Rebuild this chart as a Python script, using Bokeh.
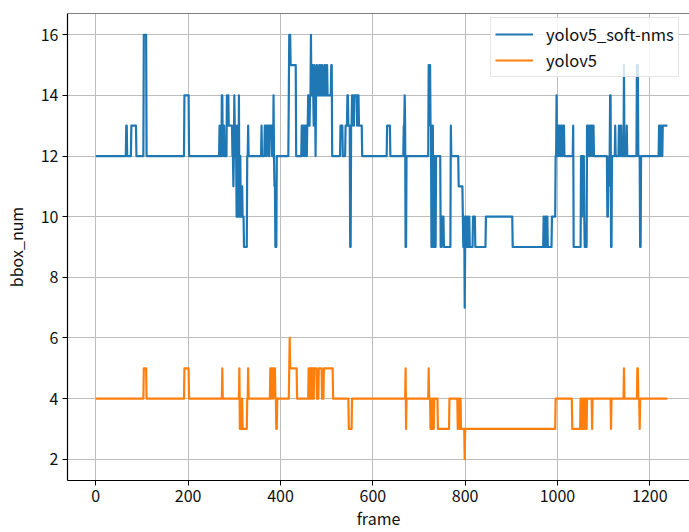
from bokeh.plotting import figure
from bokeh.embed import file_html
from bokeh.resources import INLINE
from bokeh.models import FixedTicker, Span, Legend, LegendItem, ColumnDataSource

# ---- data (step runs: frame where a value starts, value) ----
last_frame = 1238

soft_nms_starts = [0, 66, 68, 77, 88, 104, 110, 192, 202,
    268, 269, 273, 275, 277, 279, 284, 288, 296, 298, 299, 300, 301, 303, 305, 306, 307, 309, 310, 311, 313, 314, 317, 318, 321, 328, 330, 331,
    359, 360, 366, 369, 371, 375, 377, 382, 385, 386, 387, 389, 392,
    418, 419, 422, 434, 446, 448, 449, 452, 454, 457, 458, 460, 462, 464, 466, 467, 470, 471, 472, 473, 474, 476, 477, 478, 480, 484, 486, 489, 491, 495, 497, 500, 502, 510, 512,
    530, 535, 541, 545, 547, 551, 553, 555, 558, 560, 566, 567, 570, 577,
    631, 638, 667, 669, 670, 671, 673,
    721, 725, 727, 729, 731, 733, 735, 737, 747, 750, 754, 769, 770, 786, 795, 796, 798, 799, 800, 801, 803, 805, 807, 809, 810, 817, 822, 845, 903,
    970, 972, 974, 976, 977, 979, 988, 996, 998, 999, 1001, 1003, 1004, 1006, 1008, 1010, 1012, 1015, 1034, 1035, 1051, 1053, 1054, 1058, 1059,
    1064, 1066, 1068, 1070, 1072, 1075, 1077, 1079, 1108, 1110, 1112, 1114, 1116, 1118, 1125, 1126, 1133, 1134, 1137, 1139, 1144, 1145, 1150, 1151,
    1172, 1175, 1179, 1181, 1220, 1222, 1224, 1226, 1228]
soft_nms_values = [12, 13, 12, 13, 12, 16, 12, 14, 12,
    13, 12, 14, 12, 13, 12, 14, 13, 12, 11, 12, 14, 13, 12, 10, 13, 10, 11, 14, 10, 12, 10, 11, 10, 9, 12, 13, 12,
    13, 12, 13, 12, 13, 12, 13, 12, 14, 12, 11, 9, 12,
    14, 16, 15, 12, 13, 12, 13, 12, 13, 12, 13, 14, 13, 14, 16, 14, 15, 14, 13, 15, 14, 12, 14, 15, 14, 15, 14, 15, 14, 15, 14, 15, 14, 15, 12,
    13, 12, 13, 14, 13, 9, 13, 14, 13, 14, 13, 14, 13, 12,
    13, 12, 13, 14, 13, 9, 12,
    15, 13, 9, 13, 9, 12, 9, 12, 9, 10, 9, 13, 12, 11, 10, 9, 10, 7, 9, 10, 9, 10, 9, 10, 9, 10, 9, 10, 9,
    10, 9, 10, 9, 10, 9, 10, 12, 14, 12, 13, 12, 13, 12, 13, 12, 13, 12, 13, 9, 12, 10, 12, 10, 9,
    13, 12, 13, 12, 13, 12, 13, 12, 10, 11, 12, 14, 9, 12, 13, 12, 13, 12, 13, 12, 15, 12, 13, 12,
    15, 12, 9, 12, 13, 12, 13, 12, 13]

yolov5_starts = [0, 104, 110, 192, 202, 274, 275, 311, 312, 316, 318, 328, 330, 331,
    378, 380, 381, 384, 385, 389, 391, 393, 419, 420, 421, 436,
    461, 463, 464, 466, 467, 469, 470, 472, 473, 479, 483, 490, 494, 514, 548, 555,
    671, 672, 673, 721, 722, 725, 727, 728, 730, 731, 733, 741, 766, 784, 787, 788, 790, 791, 799, 800,
    996, 1032, 1050, 1053, 1055, 1057, 1059, 1062, 1064, 1075, 1076, 1116, 1117, 1144, 1145, 1173, 1175, 1178, 1179]
yolov5_values = [4, 5, 4, 5, 4, 5, 4, 5, 3, 4, 3, 4, 5, 4,
    5, 4, 5, 4, 5, 4, 3, 4, 5, 6, 5, 4,
    5, 4, 5, 4, 5, 4, 5, 4, 5, 4, 5, 4, 5, 4, 3, 4,
    5, 3, 4, 5, 4, 3, 4, 3, 4, 3, 4, 3, 4, 3, 4, 3, 4, 3, 2, 3,
    4, 3, 4, 3, 4, 3, 4, 3, 4, 3, 4, 3, 4, 5, 4, 5, 4, 3, 4]

x_ticks = [0, 200, 400, 600, 800, 1000, 1200]
y_ticks = [2, 4, 6, 8, 10, 12, 14, 16]
series_names = ["yolov5_soft-nms", "yolov5"]
series_colors = ["#1f77b4", "#ff7f0e"]


def expand(starts, values, last):
    xs, ys = [], []
    for i, (s, v) in enumerate(zip(starts, values)):
        e = starts[i + 1] if i + 1 < len(starts) else last + 1
        for f in range(s, e):
            xs.append(f)
            ys.append(v)
    return xs, ys


FONT = "Noto Sans CJK JP"

p = figure(width=689, height=532, x_range=(-61.3, 1285.9), y_range=(1.3, 16.7),
           output_backend="svg", toolbar_location=None,
           min_border_left=66, min_border_top=13, min_border_right=0, min_border_bottom=51)
p.outline_line_color = None
p.background_fill_color = "white"
p.border_fill_color = "white"

renderers = []
for (starts, vals), color in zip([(soft_nms_starts, soft_nms_values), (yolov5_starts, yolov5_values)], series_colors):
    xs, ys = expand(starts, vals, last_frame)
    src = ColumnDataSource(dict(x=xs, y=ys))
    r = p.line("x", "y", source=src, line_color=color, line_width=2.2, line_join="round")
    renderers.append(r)

p.add_layout(Span(location=16.7, dimension="width", line_color="black", line_width=1.2))

for ax in (p.xaxis, p.yaxis):
    ax.axis_line_color = "black"
    ax.axis_line_width = 1.2
    ax.major_tick_line_color = "black"
    ax.major_tick_out = 5
    ax.major_tick_in = 0
    ax.minor_tick_line_color = None
    ax.major_label_text_font = FONT
    ax.major_label_text_font_size = "16px"
    ax.major_label_text_color = "#111111"
    ax.axis_label_text_font = FONT
    ax.axis_label_text_font_size = "16px"
    ax.axis_label_text_font_style = "normal"
    ax.axis_label_text_color = "#111111"

p.xaxis.major_label_standoff = 4
p.yaxis.major_label_standoff = 4
p.xaxis.ticker = FixedTicker(ticks=x_ticks)
p.yaxis.ticker = FixedTicker(ticks=y_ticks)
p.xaxis.axis_label = "frame"
p.yaxis.axis_label = "bbox_num"
p.xaxis.axis_label_standoff = 1
p.yaxis.axis_label_standoff = 10

p.grid.grid_line_color = "#bdbdbd"
p.grid.grid_line_width = 1

legend = Legend(items=[LegendItem(label=n, renderers=[r]) for n, r in zip(series_names, renderers)],
                location=(423, 403))
legend.label_text_font = FONT
legend.label_text_font_size = "16.5px"
legend.label_text_color = "#111111"
legend.glyph_width = 38
legend.label_standoff = 13
legend.border_line_color = "#cccccc"
legend.background_fill_alpha = 0.8
legend.padding = 4
legend.spacing = 2
legend.margin = 0
p.add_layout(legend)

open("out.html", "w").write(file_html(p, INLINE))
